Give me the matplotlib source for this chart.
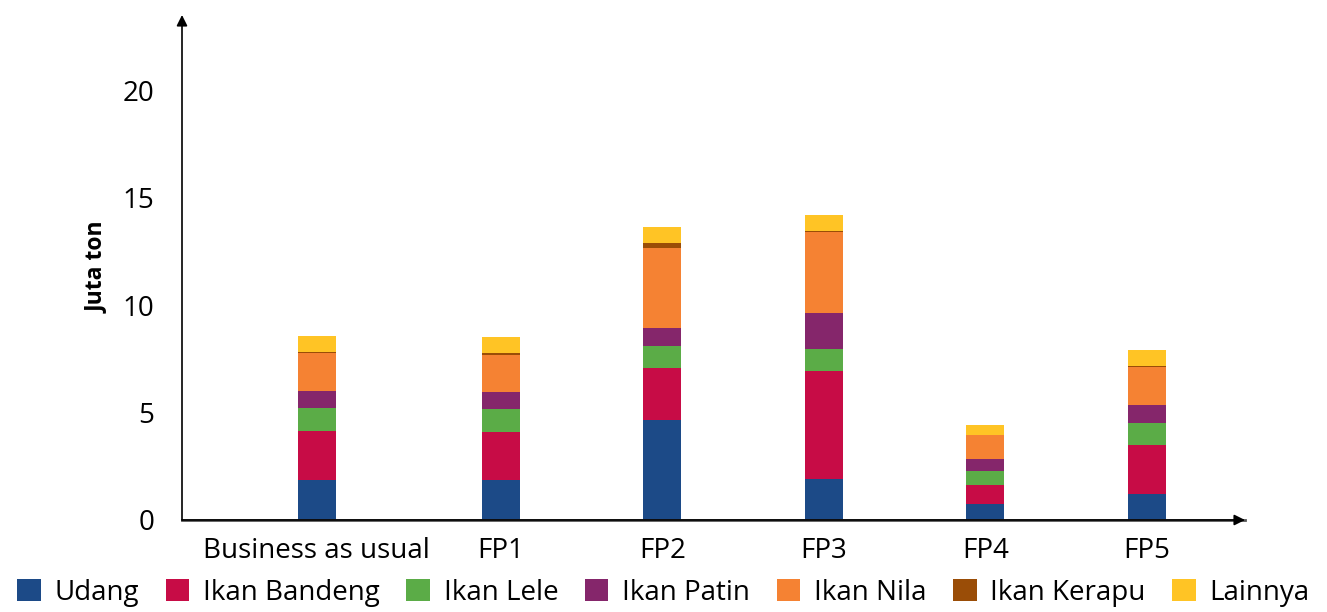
import matplotlib.pyplot as plt
import numpy as np

plt.rcParams['font.family'] = ['Open Sans', 'DejaVu Sans']

# data (juta ton)
kategori = ['Business as usual', 'FP1', 'FP2', 'FP3', 'FP4', 'FP5']
seri = ['Udang', 'Ikan Bandeng', 'Ikan Lele', 'Ikan Patin', 'Ikan Nila', 'Ikan Kerapu', 'Lainnya']
udang = [1.86, 1.86, 4.65, 1.90, 0.74, 1.21]
bandeng = [2.28, 2.23, 2.42, 5.02, 0.89, 2.28]
lele = [1.08, 1.07, 1.02, 1.02, 0.65, 1.02]
patin = [0.78, 0.79, 0.84, 1.68, 0.56, 0.84]
nila = [1.75, 1.75, 3.72, 3.76, 1.11, 1.76]
kerapu = [0.05, 0.05, 0.23, 0.05, 0.01, 0.05]
lainnya = [0.76, 0.76, 0.75, 0.75, 0.47, 0.75]

warna = ['#1c4a87', '#c70c46', '#5bac47', '#85266b', '#f58233', '#9a4d07', '#ffc425']

fig = plt.figure(figsize=(13.27, 6.12), dpi=100)
W, H = 1327, 612
ax = fig.add_axes([182 / W, (H - 520) / H, (1245 - 182) / W, (520 - 15) / H])

# BAU sits a bit further left than the others
x = np.array([-0.14, 1, 2, 3, 4, 5])
bottom = np.zeros(len(kategori))
for nama, vals, c in zip(seri, [udang, bandeng, lele, patin, nila, kerapu, lainnya], warna):
    ax.bar(x, vals, width=0.235, bottom=bottom, color=c, label=nama, linewidth=0)
    bottom += np.array(vals)

ax.set_xlim(-0.975, 5.607)
ax.set_ylim(0, 23.5)
ax.set_yticks([0, 5, 10, 15, 20])
ax.set_xticks(x)
ax.set_xticklabels(kategori)
ax.tick_params(axis='both', length=0, labelsize=20)
ax.tick_params(axis='y', pad=20)
ax.tick_params(axis='x', pad=12)
ax.set_ylabel('Juta ton', fontsize=16.5, fontweight='bold', labelpad=10)

for s in ax.spines.values():
    s.set_visible(False)

# axis lines with arrow heads
arr = dict(arrowstyle='-|>', color='black', lw=1.2, mutation_scale=16, shrinkA=0, shrinkB=0)
ax.annotate('', xy=(0, 1), xytext=(0, 0), xycoords='axes fraction', arrowprops=arr)
ax.annotate('', xy=(1, 0), xytext=(0, 0), xycoords='axes fraction', arrowprops=arr)
ax.plot([0, 1], [0, 0], transform=ax.transAxes, color='#555555', lw=2, clip_on=False)

fig.legend(loc='lower center', bbox_to_anchor=(0.5, -0.028), ncol=7, frameon=False,
           fontsize=20, handlelength=0.85, handleheight=0.85, handletextpad=0.5,
           columnspacing=0.95, borderpad=0.3)

fig.savefig('out.png', dpi=100)
